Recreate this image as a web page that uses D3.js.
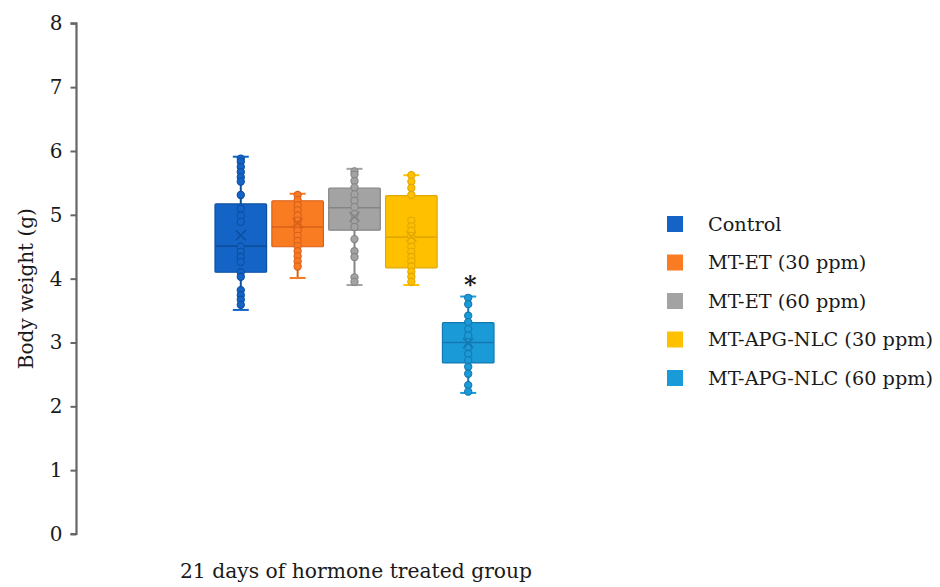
<!DOCTYPE html>
<html>
<head>
<meta charset="utf-8">
<script src="https://cdn.jsdelivr.net/npm/d3@7"></script>
<style>
  html, body { margin: 0; padding: 0; background: #fff; }
  svg { display: block; }
  text { font-family: "DejaVu Serif", "Liberation Serif", serif; fill: #1a1a1a; }
</style>
</head>
<body>
<svg id="chart" width="940" height="587"></svg>
<script>
// ---- data ----
const groups = ["Control", "MT-ET (30 ppm)", "MT-ET (60 ppm)", "MT-APG-NLC (30 ppm)", "MT-APG-NLC (60 ppm)"];
const fills   = ["#1464c8", "#f97b22", "#a3a3a3", "#ffc000", "#1b9ad8"];
const strokes = ["#0d4f9e", "#d9601a", "#858585", "#e0a800", "#1379b0"];
const mins    = [3.51, 4.01, 3.90, 3.90, 2.21];
const q1s     = [4.10, 4.50, 4.76, 4.17, 2.68];
const medians = [4.51, 4.81, 5.11, 4.65, 3.00];
const q3s     = [5.17, 5.22, 5.42, 5.30, 3.31];
const maxs    = [5.91, 5.33, 5.72, 5.62, 3.72];
const means   = [4.68, 4.87, 4.97, 4.66, 2.99];
const pointsControl = [5.88, 5.83, 5.75, 5.67, 5.59, 5.52, 5.31, 5.10, 4.99, 4.89, 4.50, 4.42, 4.34, 4.26, 4.10, 4.03, 3.82, 3.74, 3.67, 3.59];
const pointsET30    = [5.31, 5.23, 5.15, 5.07, 4.99, 4.91, 4.83, 4.75, 4.67, 4.59, 4.51, 4.43, 4.35, 4.27, 4.19];
const pointsET60    = [5.68, 5.63, 5.53, 5.43, 5.32, 5.22, 5.12, 5.01, 4.91, 4.81, 4.62, 4.43, 4.34, 4.02, 3.95];
const pointsNLC30   = [5.62, 5.52, 5.42, 5.31, 4.91, 4.82, 4.75, 4.67, 4.58, 4.50, 4.42, 4.34, 4.27, 4.19, 4.11, 4.03, 3.95];
const pointsNLC60   = [3.70, 3.60, 3.42, 3.32, 3.21, 3.11, 2.93, 2.82, 2.72, 2.62, 2.51, 2.33, 2.23];
const points = [pointsControl, pointsET30, pointsET60, pointsNLC30, pointsNLC60];
const yTicks = [0, 1, 2, 3, 4, 5, 6, 7, 8];
const significant = [false, false, false, false, true];
const yLabel = "Body weight (g)";
const xLabel = "21 days of hormone treated group";

// ---- chart ----
const svg = d3.select("#chart");
const y = d3.scaleLinear().domain([0, 8]).range([534, 23.3]);
const x = d3.scaleBand().domain(groups).range([215, 494]).paddingInner(0.093).paddingOuter(0);
const bw = x.bandwidth();

// y axis
const yAxis = d3.axisLeft(y).tickValues(yTicks).tickSize(6).tickPadding(8).tickFormat(d3.format("d"));
const ga = svg.append("g").attr("transform", "translate(76.5,0)").call(yAxis);
ga.select(".domain").attr("stroke", "#666").attr("stroke-width", 2.2).attr("d", `M-6,${y(8)}H0V${y(0)}H-6`);
ga.selectAll(".tick line").attr("stroke", "#666").attr("stroke-width", 2);
ga.selectAll(".tick text").attr("font-size", 20).attr("font-family", "DejaVu Serif, serif").attr("fill", "#1a1a1a");

svg.append("text")
  .attr("transform", `translate(33,${(y(0)+y(8))/2 + 10}) rotate(-90)`)
  .attr("text-anchor", "middle")
  .attr("font-size", 20)
  .text(yLabel);

svg.append("text")
  .attr("x", 356).attr("y", 578)
  .attr("text-anchor", "middle")
  .attr("font-size", 20.3)
  .text(xLabel);

// boxes
groups.forEach((g, i) => {
  const cx = x(g) + bw / 2;
  const gg = svg.append("g");
  const cap = 8;
  gg.append("line").attr("x1", cx).attr("x2", cx).attr("y1", y(maxs[i])).attr("y2", y(q3s[i]))
    .attr("stroke", strokes[i]).attr("stroke-width", 2);
  gg.append("line").attr("x1", cx).attr("x2", cx).attr("y1", y(q1s[i])).attr("y2", y(mins[i]))
    .attr("stroke", strokes[i]).attr("stroke-width", 2);
  gg.append("line").attr("x1", cx - cap).attr("x2", cx + cap).attr("y1", y(maxs[i])).attr("y2", y(maxs[i]))
    .attr("stroke", fills[i]).attr("stroke-width", 2);
  gg.append("line").attr("x1", cx - cap).attr("x2", cx + cap).attr("y1", y(mins[i])).attr("y2", y(mins[i]))
    .attr("stroke", fills[i]).attr("stroke-width", 2);
  gg.append("rect").attr("x", x(g)).attr("width", bw)
    .attr("y", y(q3s[i])).attr("height", y(q1s[i]) - y(q3s[i]))
    .attr("fill", fills[i]).attr("stroke", strokes[i]).attr("stroke-width", 1.2).attr("rx", 1);
  gg.append("line").attr("x1", x(g)).attr("x2", x(g) + bw).attr("y1", y(medians[i])).attr("y2", y(medians[i]))
    .attr("stroke", strokes[i]).attr("stroke-width", 1.6);
  gg.selectAll("circle").data(points[i]).join("circle")
    .attr("cx", cx).attr("cy", d => y(d)).attr("r", 3.6)
    .attr("fill", fills[i]).attr("stroke", strokes[i]).attr("stroke-width", 1.1);
  const my = y(means[i]), s = 5;
  gg.append("path").attr("d", `M${cx-s},${my-s}L${cx+s},${my+s}M${cx-s},${my+s}L${cx+s},${my-s}`)
    .attr("stroke", strokes[i]).attr("stroke-width", 1.6).attr("fill", "none");
  if (significant[i]) {
    svg.append("text").attr("x", cx + 2).attr("y", y(maxs[i]) - 4)
      .attr("text-anchor", "middle").attr("font-size", 24).attr("font-weight", "bold")
      .attr("font-family", "DejaVu Sans, sans-serif").attr("fill", "#111")
      .text("*");
  }
});

// legend
const ly = d3.scalePoint().domain(groups).range([224, 378]);
const lg = svg.append("g");
groups.forEach((g, i) => {
  lg.append("rect").attr("x", 667).attr("y", ly(g) - 8).attr("width", 16).attr("height", 16)
    .attr("fill", fills[i]);
  lg.append("text").attr("x", 708).attr("y", ly(g) + 6.5).attr("font-size", 19.3).text(g);
});
</script>
</body>
</html>
